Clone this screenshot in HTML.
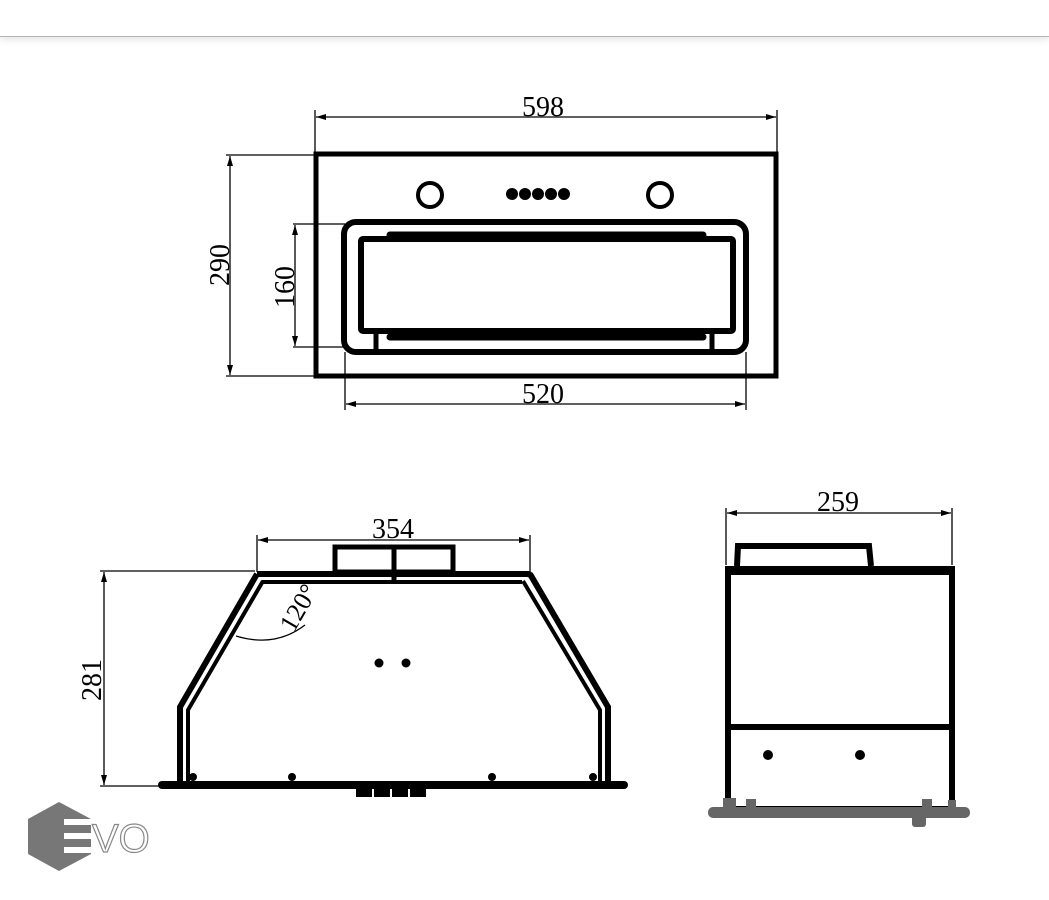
<!DOCTYPE html>
<html><head><meta charset="utf-8"><style>
html,body{margin:0;padding:0;background:#fff;}
body{width:1049px;height:900px;overflow:hidden;position:relative;}
.hdr{position:absolute;left:0;top:0;width:1049px;height:36px;border-bottom:1px solid #b4b4b4;box-shadow:0 2px 8px rgba(0,0,0,0.12);background:#fff;}
svg{position:absolute;left:0;top:0;}
text{font-family:"Liberation Serif",serif;fill:#000;}
</style></head><body>
<div class="hdr"></div>
<svg width="1049" height="900" viewBox="0 0 1049 900">
<defs>
<marker id="a" viewBox="0 0 10 6" refX="10" refY="3" markerWidth="14" markerHeight="6" orient="auto-start-reverse" markerUnits="userSpaceOnUse"><path d="M0,0 L10,3 L0,6 Z" fill="#000"/></marker>
</defs>
<g stroke="#000" fill="none">
<g stroke-width="1.3">
<line x1="315" y1="110" x2="315" y2="153"/><line x1="777" y1="110" x2="777" y2="153"/>
<line x1="316" y1="117" x2="776" y2="117" marker-start="url(#a)" marker-end="url(#a)"/>
<line x1="226" y1="155" x2="315" y2="155"/><line x1="226" y1="376" x2="315" y2="376"/>
<line x1="230" y1="156" x2="230" y2="375" marker-start="url(#a)" marker-end="url(#a)"/>
<line x1="293" y1="224" x2="345" y2="224"/><line x1="293" y1="347" x2="345" y2="347"/>
<line x1="295" y1="225" x2="295" y2="346" marker-start="url(#a)" marker-end="url(#a)"/>
<line x1="345" y1="352" x2="345" y2="410"/><line x1="746" y1="352" x2="746" y2="410"/>
<line x1="346" y1="404" x2="745" y2="404" marker-start="url(#a)" marker-end="url(#a)"/>
</g>
<rect x="316" y="154" width="460" height="222" stroke-width="5"/>
<circle cx="430" cy="195" r="12" stroke-width="4"/>
<circle cx="660" cy="195" r="12" stroke-width="4"/>
<rect x="344" y="222" width="402" height="130" rx="12" stroke-width="6"/>
<rect x="361" y="239" width="372" height="92" rx="2" stroke-width="6"/>
<line x1="390" y1="235" x2="703" y2="235" stroke-width="7" stroke-linecap="round"/>
<line x1="390" y1="337" x2="703" y2="337" stroke-width="7" stroke-linecap="round"/>
<line x1="376" y1="332" x2="376" y2="350" stroke-width="5"/>
<line x1="712" y1="332" x2="712" y2="350" stroke-width="5"/>
</g>
<g fill="#000">
<circle cx="512" cy="194" r="6"/><circle cx="525" cy="194" r="6"/><circle cx="538" cy="194" r="6"/><circle cx="551" cy="194" r="6"/><circle cx="564" cy="194" r="6"/>
</g>
<text x="543" y="116" font-size="28" text-anchor="middle">598</text>
<text x="543" y="403" font-size="28" text-anchor="middle">520</text>
<text transform="translate(229,265) rotate(-90)" font-size="28" text-anchor="middle">290</text>
<text transform="translate(294,287) rotate(-90)" font-size="28" text-anchor="middle">160</text>
<text x="393" y="538" font-size="28" text-anchor="middle">354</text>
<text transform="translate(101,680) rotate(-90)" font-size="28" text-anchor="middle">281</text>
<text transform="translate(306,612) rotate(-60)" font-size="26" text-anchor="middle">120°</text>
<text x="838" y="511" font-size="28" text-anchor="middle">259</text>

<g stroke="#000" fill="none">
<g stroke-width="1.3">
<line x1="257" y1="535" x2="257" y2="572"/><line x1="530" y1="535" x2="530" y2="572"/>
<line x1="258" y1="540" x2="529" y2="540" marker-start="url(#a)" marker-end="url(#a)"/>
<line x1="100" y1="571" x2="255" y2="571"/><line x1="100" y1="786" x2="162" y2="786"/>
<line x1="104" y1="572" x2="104" y2="785" marker-start="url(#a)" marker-end="url(#a)"/>
<path d="M236,636 Q275,648 305,625"/>
</g>
<rect x="335" y="547" width="118" height="25" stroke-width="5"/>
<line x1="394" y1="547" x2="394" y2="580" stroke-width="5"/>
<path d="M257,574 L528,574 L531,575" stroke-width="6"/>
<line x1="262" y1="582" x2="522" y2="582" stroke-width="4"/>
<path d="M257,574 L180,707 L180,783" stroke-width="6"/>
<path d="M263,581 L188,710 L188,783" stroke-width="4"/>
<path d="M530,574 L608,707 L608,783" stroke-width="6"/>
<path d="M523,581 L600,710 L600,783" stroke-width="4"/>
<line x1="162" y1="785" x2="624" y2="785" stroke-width="8" stroke-linecap="round"/>
</g>
<g fill="#000">
<rect x="356" y="787" width="16" height="10"/><rect x="374" y="787" width="16" height="10"/><rect x="392" y="787" width="16" height="10"/><rect x="410" y="787" width="16" height="10"/>
<circle cx="379" cy="663" r="4.5"/><circle cx="406" cy="663" r="4.5"/>
<circle cx="193" cy="777" r="4"/><circle cx="292" cy="777" r="4"/><circle cx="492" cy="777" r="4"/><circle cx="593" cy="777" r="4"/>
</g>

<g stroke="#000" fill="none">
<g stroke-width="1.3">
<line x1="726" y1="508" x2="726" y2="565"/><line x1="952" y1="508" x2="952" y2="565"/>
<line x1="727" y1="513" x2="951" y2="513" marker-start="url(#a)" marker-end="url(#a)"/>
</g>
<path d="M737,566 L738,546 L869,546 L871,566" stroke-width="6"/>
<rect x="728" y="569" width="224" height="240" stroke-width="6"/>
<line x1="728" y1="727" x2="952" y2="727" stroke-width="6"/>
</g>
<rect x="725" y="566" width="230" height="9" fill="#000"/>
<circle cx="768" cy="755" r="5" fill="#000"/><circle cx="860" cy="755" r="5" fill="#000"/>
<g fill="#666">
<rect x="708" y="807" width="262" height="11" rx="5"/>
<rect x="723" y="798" width="13" height="12"/><rect x="746" y="799" width="10" height="10"/><rect x="922" y="799" width="10" height="10"/>
<rect x="912" y="812" width="14" height="15" rx="3"/><rect x="948" y="800" width="8" height="10"/>
</g>

<polygon points="59,802 91,819 91,854 59,871 28,854 28,819" fill="#777"/>
<g fill="#fff">
<rect x="64" y="819" width="28" height="6"/><rect x="64" y="833" width="28" height="6"/><rect x="64" y="847" width="28" height="6"/>
</g>
<text x="92" y="852" font-size="40" style="font-family:'Liberation Sans',sans-serif;fill:#fff;stroke:#888;stroke-width:1.2">VO</text>
</svg>
</body></html>
